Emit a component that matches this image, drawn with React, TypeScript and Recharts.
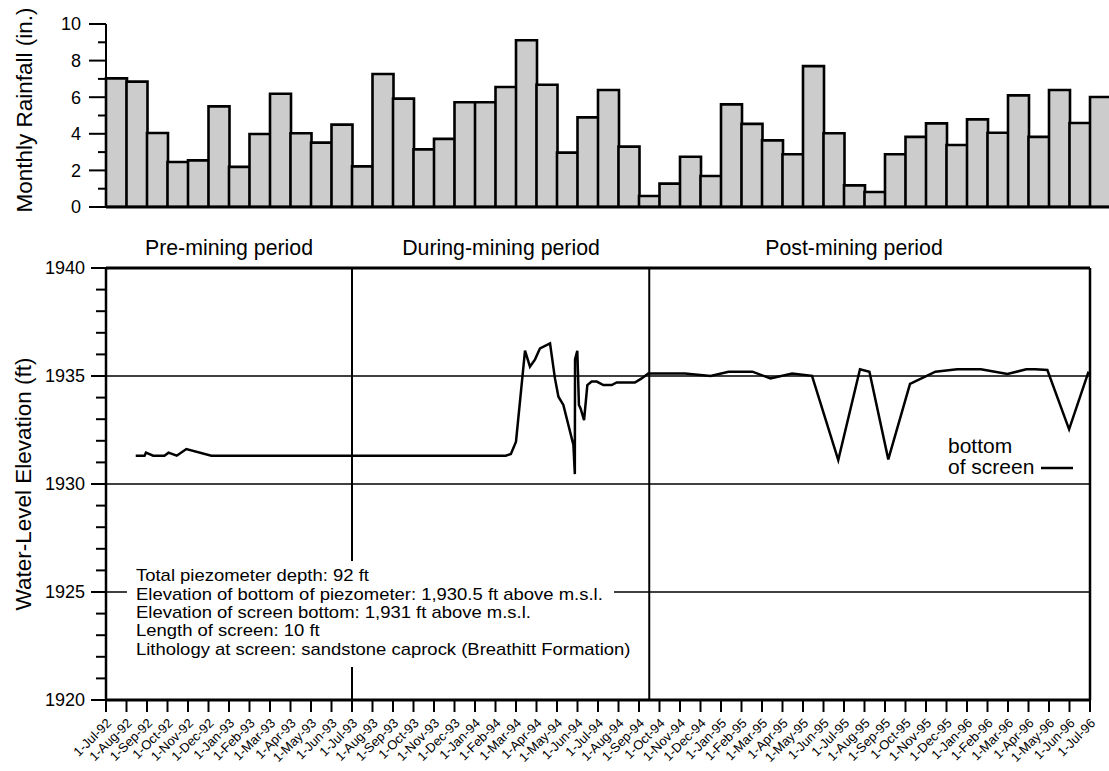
import React from "react";
import { BarChart, Bar, XAxis, YAxis, LineChart, Line, ReferenceLine } from "recharts";

const FONT = "'Liberation Sans', Arial, Helvetica, sans-serif";

const monthLabels = [
  "1-Jul-92", "1-Aug-92", "1-Sep-92", "1-Oct-92", "1-Nov-92", "1-Dec-92",
  "1-Jan-93", "1-Feb-93", "1-Mar-93", "1-Apr-93", "1-May-93", "1-Jun-93",
  "1-Jul-93", "1-Aug-93", "1-Sep-93", "1-Oct-93", "1-Nov-93", "1-Dec-93",
  "1-Jan-94", "1-Feb-94", "1-Mar-94", "1-Apr-94", "1-May-94", "1-Jun-94",
  "1-Jul-94", "1-Aug-94", "1-Sep-94", "1-Oct-94", "1-Nov-94", "1-Dec-94",
  "1-Jan-95", "1-Feb-95", "1-Mar-95", "1-Apr-95", "1-May-95", "1-Jun-95",
  "1-Jul-95", "1-Aug-95", "1-Sep-95", "1-Oct-95", "1-Nov-95", "1-Dec-95",
  "1-Jan-96", "1-Feb-96", "1-Mar-96", "1-Apr-96", "1-May-96", "1-Jun-96",
  "1-Jul-96",
];

const rainfall = [
  7.03, 6.85, 4.04, 2.46, 2.55, 5.5, 2.19, 3.99, 6.19, 4.03,
  3.52, 4.5, 2.22, 7.27, 5.92, 3.15, 3.72, 5.72, 5.72, 6.56,
  9.11, 6.68, 2.97, 4.9, 6.39, 3.3, 0.6, 1.28, 2.75, 1.69,
  5.61, 4.54, 3.64, 2.88, 7.7, 4.03, 1.18, 0.82, 2.88, 3.83,
  4.57, 3.39, 4.79, 4.06, 6.1, 3.83, 6.39, 4.59, 6.01,
];

const rainTicks = [0, 1, 2, 3, 4, 5, 6, 7, 8, 9, 10];
const levelTicks = [
  1920, 1921, 1922, 1923, 1924, 1925, 1926, 1927, 1928, 1929, 1930,
  1931, 1932, 1933, 1934, 1935, 1936, 1937, 1938, 1939, 1940,
];

// time in months since 1-Jul-92
const levelTime = [
  1.45, 1.88, 1.95, 2.3, 2.85, 3.05, 3.45, 3.92, 5.14, 19.5,
  19.75, 20.0, 20.44, 20.68, 20.93, 21.17, 21.66, 21.9, 22.07, 22.31,
  22.8, 22.87, 22.88, 22.99, 23.07, 23.15, 23.32, 23.48, 23.69, 23.94,
  24.26, 24.67, 24.91, 25.8, 26.13, 26.45, 28.24, 29.49, 30.37, 31.53,
  32.41, 33.47, 34.44, 35.72, 36.78, 37.24, 38.16, 39.22, 40.46, 41.52,
  42.68, 43.97, 44.89, 45.33, 45.92, 46.98, 47.93,
];
const levelValue = [
  1931.31, 1931.31, 1931.45, 1931.31, 1931.31, 1931.45, 1931.31, 1931.62, 1931.31, 1931.31,
  1931.39, 1931.96, 1936.17, 1935.43, 1935.77, 1936.28, 1936.51, 1934.89, 1934.04, 1933.66,
  1931.81, 1930.46, 1935.77, 1936.17, 1933.66, 1933.5, 1932.96, 1934.58, 1934.74, 1934.74,
  1934.58, 1934.58, 1934.7, 1934.7, 1934.89, 1935.12, 1935.12, 1935.0, 1935.2, 1935.2,
  1934.89, 1935.12, 1935.01, 1931.11, 1935.31, 1935.2, 1931.14, 1934.63, 1935.2, 1935.31,
  1935.31, 1935.09, 1935.31, 1935.31, 1935.28, 1932.53, 1935.2,
];

const gridLevels = [1925, 1930, 1935];
const periodBounds = [12, 26.5];
const periodNames = ["Pre-mining period", "During-mining period", "Post-mining period"];
const noteLines = [
  "Total piezometer depth: 92 ft",
  "Elevation of bottom of piezometer: 1,930.5 ft above m.s.l.",
  "Elevation of screen bottom: 1,931 ft above m.s.l.",
  "Length of screen: 10 ft",
  "Lithology at screen: sandstone caprock (Breathitt Formation)",
];
const legendLines = ["bottom", "of screen"];

const rainData = monthLabels.map((m, i) => ({ month: m, rain: rainfall[i] }));
const levelData = levelTime.map((t, i) => ({ t, level: levelValue[i] }));
const monthTicks = monthLabels.map((_, i) => i);

function RainTick(props: any) {
  const { x, y, payload } = props;
  const v = payload.value;
  const major = v % 2 === 0;
  return (
    <g>
      <line x1={x - (major ? 17 : 8)} y1={y} x2={x} y2={y} stroke="#000" strokeWidth={2} />
      {major && (
        <text x={x - 25} y={y} dy="0.36em" textAnchor="end" fontSize={18} fontFamily={FONT} fill="#000">
          {v}
        </text>
      )}
    </g>
  );
}

function LevelTick(props: any) {
  const { x, y, payload } = props;
  const v = payload.value;
  const major = v % 5 === 0;
  return (
    <g>
      <line x1={x - (major ? 15 : 10)} y1={y} x2={x} y2={y} stroke="#000" strokeWidth={2} />
      {major && (
        <text x={x - 21} y={y} dy="0.36em" textAnchor="end" fontSize={18} fontFamily={FONT} fill="#000">
          {v}
        </text>
      )}
    </g>
  );
}

function MonthTick(props: any) {
  const { x, y, payload } = props;
  const label = monthLabels[payload.value];
  const tx = x + 6;
  const ty = y + 24;
  return (
    <g>
      <line x1={x} y1={y} x2={x} y2={y + 12} stroke="#000" strokeWidth={2} />
      <text
        x={tx}
        y={ty}
        transform={`rotate(-45 ${tx} ${ty})`}
        textAnchor="end"
        fontSize={13}
        fontFamily={FONT}
        fill="#000"
      >
        {label}
      </text>
    </g>
  );
}

export default function App() {
  return (
    <div
      style={{
        position: "absolute",
        left: 0,
        top: 0,
        width: 1109,
        height: 771,
        overflow: "hidden",
        background: "#fff",
        fontFamily: FONT,
      }}
    >
      <div style={{ position: "absolute", left: 0, top: 0 }}>
        <BarChart
          width={1112}
          height={230}
          data={rainData}
          margin={{ top: 24, right: 1.5, left: 0, bottom: 23 }}
          barCategoryGap={0}
          barGap={0}
        >
          <XAxis dataKey="month" hide />
          <YAxis
            width={106}
            domain={[0, 10]}
            ticks={rainTicks}
            interval={0}
            tickSize={0}
            tickMargin={0}
            tickLine={false}
            axisLine={{ stroke: "#000", strokeWidth: 2 }}
            tick={(p: any) => <RainTick {...p} />}
            allowDataOverflow
          />
          <Bar dataKey="rain" fill="#cccccc" stroke="#000" strokeWidth={2.6} isAnimationActive={false} />
          <ReferenceLine y={0} stroke="#000" strokeWidth={3} />
        </BarChart>
      </div>
      <div style={{ position: "absolute", left: 0, top: 230 }}>
        <LineChart
          width={1109}
          height={541}
          data={levelData}
          margin={{ top: 38, right: 19, left: 0, bottom: 0 }}
        >
          <XAxis
            dataKey="t"
            type="number"
            domain={[0, 48]}
            ticks={monthTicks}
            interval={0}
            height={71}
            tickSize={0}
            tickMargin={0}
            tickLine={false}
            axisLine={{ stroke: "#000", strokeWidth: 3 }}
            tick={(p: any) => <MonthTick {...p} />}
            allowDataOverflow
          />
          <YAxis
            width={106}
            domain={[1920, 1940]}
            ticks={levelTicks}
            interval={0}
            tickSize={0}
            tickMargin={0}
            tickLine={false}
            axisLine={{ stroke: "#000", strokeWidth: 2.5 }}
            tick={(p: any) => <LevelTick {...p} />}
            allowDataOverflow
          />
          {gridLevels.map((g) => (
            <ReferenceLine key={"g" + g} y={g} stroke="#000" strokeWidth={1.5} />
          ))}
          {periodBounds.map((b) => (
            <ReferenceLine key={"p" + b} x={b} stroke="#000" strokeWidth={2} />
          ))}
          <ReferenceLine y={1940} stroke="#000" strokeWidth={3} />
          <ReferenceLine x={48} stroke="#000" strokeWidth={2.5} />
          <Line
            dataKey="level"
            type="linear"
            stroke="#000"
            strokeWidth={2.5}
            dot={false}
            activeDot={false}
            isAnimationActive={false}
          />
        </LineChart>
      </div>
      <svg
        width={1109}
        height={771}
        style={{ position: "absolute", left: 0, top: 0, pointerEvents: "none" }}
      >
        <text
          transform="rotate(-90 32 110)"
          x={32}
          y={110}
          textAnchor="middle"
          fontSize={22.5}
          fontFamily={FONT}
          fill="#000"
        >
          Monthly Rainfall (in.)
        </text>
        <text
          transform="rotate(-90 31 484)"
          x={31}
          y={484}
          textAnchor="middle"
          fontSize={22.5}
          fontFamily={FONT}
          fill="#000"
        >
          Water-Level Elevation (ft)
        </text>
        {periodNames.map((n, i) => (
          <text
            key={n}
            x={[229, 501, 854][i]}
            y={255}
            textAnchor="middle"
            fontSize={21.3}
            fontFamily={FONT}
            fill="#000"
          >
            {n}
          </text>
        ))}
        <rect x={127} y={561} width={487} height={106} fill="#fff" />
        <g transform="translate(136 0) scale(1.14 1) translate(-136 0)">
          {noteLines.map((l, i) => (
            <text key={l} x={136} y={581.5 + i * 18.3} fontSize={16.2} fontFamily={FONT} fill="#000">
              {l}
            </text>
          ))}
        </g>
        {legendLines.map((l, i) => (
          <text key={l} x={948} y={453 + i * 21} fontSize={21} fontFamily={FONT} fill="#000">
            {l}
          </text>
        ))}
        <line x1={1041} y1={468} x2={1073} y2={468} stroke="#000" strokeWidth={2.5} />
      </svg>
    </div>
  );
}
